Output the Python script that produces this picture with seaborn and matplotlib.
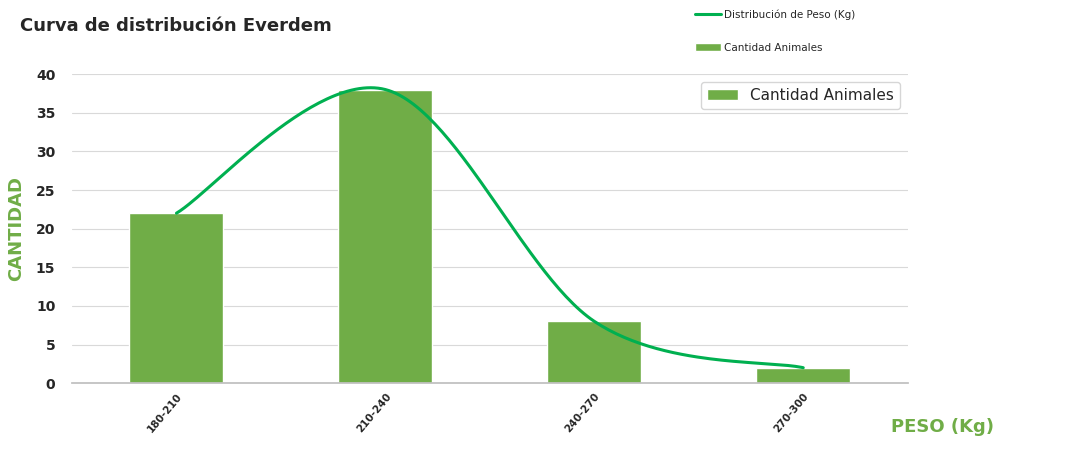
import numpy as np
import matplotlib
matplotlib.use("Agg")
import matplotlib.pyplot as plt
import seaborn as sns
import pandas as pd

categories = ["180-210", "210-240", "240-270", "270-300"]
cantidad = [22, 38, 8, 2]

sns.set_theme(style="white")
plt.rcParams['font.family'] = ['DejaVu Sans']

fig = plt.figure(figsize=(10.91, 4.69), dpi=100)
ax = fig.add_axes([0.066, 0.183, 0.766, 0.659])

df = pd.DataFrame({"cat": categories, "val": cantidad})
sns.barplot(data=df, x="cat", y="val", color="#70AD47", width=0.45,
            saturation=1, ax=ax, label="Cantidad Animales", zorder=2)

# Excel-like smoothed line (Catmull-Rom Bezier through the points)
xs = np.arange(len(cantidad), dtype=float)
ys = np.array(cantidad, dtype=float)
px = np.concatenate([[xs[0]], xs, [xs[-1]]])
py = np.concatenate([[ys[0]], ys, [ys[-1]]])
cx, cy = [], []
t = np.linspace(0, 1, 60)
for i in range(1, len(px) - 2):
    p0 = np.array([px[i], py[i]]); p3 = np.array([px[i+1], py[i+1]])
    p1 = p0 + (np.array([px[i+1], py[i+1]]) - np.array([px[i-1], py[i-1]])) / 6
    p2 = p3 - (np.array([px[i+2], py[i+2]]) - np.array([px[i], py[i]])) / 6
    b = ((1-t)**3)[:, None]*p0 + (3*(1-t)**2*t)[:, None]*p1 + (3*(1-t)*t**2)[:, None]*p2 + (t**3)[:, None]*p3
    cx.extend(b[:, 0]); cy.extend(b[:, 1])
ax.plot(cx, cy, color="#00B050", lw=2.2, label="Distribución de Peso (Kg)", zorder=3)

ax.set_xlim(-0.5, 3.5)
ax.set_ylim(0, 40)
ax.set_yticks(range(0, 41, 5))
ax.yaxis.grid(True, color="#D9D9D9", lw=0.8)
ax.set_axisbelow(True)
for s in ["top", "right", "left"]:
    ax.spines[s].set_visible(False)
ax.spines["bottom"].set_color("#BFBFBF")
ax.tick_params(axis="y", labelsize=10, pad=12, length=0)
ax.tick_params(axis="x", labelsize=7.5, length=0, pad=6)
for lbl in ax.get_yticklabels() + ax.get_xticklabels():
    lbl.set_fontweight("bold")
plt.setp(ax.get_xticklabels(), rotation=50, ha="right", rotation_mode="anchor")
ax.set_xlabel("")
ax.set_ylabel("CANTIDAD", color="#70AD47", fontsize=13, fontweight="bold", labelpad=8)

fig.text(0.018, 0.945, "Curva de distribución Everdem", fontsize=13, fontweight="bold", va="center")
fig.text(0.864, 0.09, "PESO (Kg)", color="#70AD47", fontsize=13, fontweight="bold", va="center", ha="center")

leg = fig.legend(loc="upper left", bbox_to_anchor=(0.628, 1.0), frameon=False,
                 fontsize=7.5, labelspacing=2.2, handlelength=2.5, handletextpad=0.3)

fig.savefig("out.png", dpi=100)
